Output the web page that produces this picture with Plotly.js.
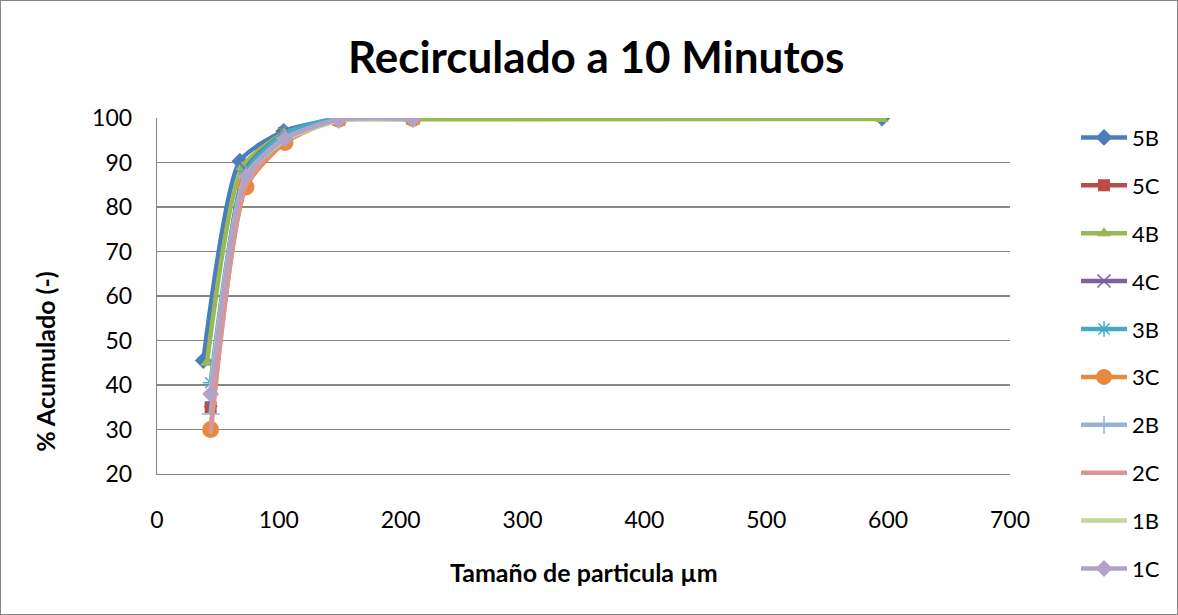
<!DOCTYPE html>
<html>
<head>
<meta charset="utf-8">
<script src="https://cdn.plot.ly/plotly-3.0.1.min.js"></script>
<style>
html,body{margin:0;padding:0;background:#fff;}
#chart{width:1176px;height:613px;border:1px solid #868686;}
</style>
</head>
<body>
<div id="chart"></div>
<script>
// Particle sizes (µm)
const sizesLong = [38, 68, 104, 149, 210, 595];
const sizes4B   = [41, 70, 104, 149, 210, 595];
const sizes     = [44, 73, 105, 149, 210];

// Cumulative % per sample
const names = ["5B","5C","4B","4C","3B","3C","2B","2C","1B","1C"];
const v5B = [45.5, 90.3, 97.0, 99.8, 99.9, 100.0];
const v5C = [35.0, 88.0, 96.3, 99.8, 99.9];
const v4B = [45.0, 89.0, 96.5, 99.6, 99.7, 99.8];
const v4C = [36.5, 88.5, 96.5, 99.8, 100.0];
const v3B = [40.5, 88.0, 96.5, 100.0, 100.0];
const v3C = [30.0, 84.5, 94.5, 99.7, 99.9];
const v2B = [33.5, 87.0, 95.5, 99.7, 99.8];
const v2C = [29.0, 85.0, 95.0, 99.6, 99.8];
const v1B = [39.0, 87.0, 95.0, 99.4, 99.7];
const v1C = [38.0, 86.8, 95.3, 99.6, 99.8];

const titleText = "Recirculado a 10 Minutos";
const xTitle = "Tamaño de particula µm";
const yTitle = "% Acumulado (-)";

const colors = ["#4A7EBB","#BE4B48","#98B954","#7D60A0","#46AAC5","#E8893F","#95B3D7","#D99694","#C3D69B","#B3A2C7"];
const symbols = ["diamond","square","triangle-up","x-thin-open","asterisk-open","circle","cross-thin-open","circle","circle","diamond"];
const msizes = [13, 12, 12, 13, 13, 17, 13, 0, 0, 13];
const xs = [sizesLong, sizes, sizes4B, sizes, sizes, sizes, sizes, sizes, sizes, sizes];
const ys = [v5B, v5C, v4B, v4C, v3B, v3C, v2B, v2C, v1B, v1C];

const traces = names.map((n, i) => ({
  type: "scatter",
  mode: msizes[i] > 0 ? "lines+markers" : "lines",
  name: n,
  legendgroup: n,
  x: xs[i], y: ys[i],
  line: {color: colors[i], width: 4.5, shape: "spline", smoothing: 0.6},
  marker: {symbol: symbols[i], size: msizes[i], color: colors[i],
           line: {color: colors[i], width: (symbols[i].indexOf("open") >= 0) ? 1.5 : 0}}
}));

const font = "Lato, 'Open Sans', sans-serif";
const layout = {
  width: 1176, height: 613,
  margin: {l: 156, r: 167, t: 117, b: 140},
  paper_bgcolor: "#fff", plot_bgcolor: "#fff",
  font: {family: font, size: 23, color: "#000"},
  title: {text: "<b>" + titleText + "</b>", font: {family: font, size: 44, color: "#000"},
          x: 0.506, xanchor: "center", y: 0.908, yanchor: "middle"},
  xaxis: {
    range: [0, 700], dtick: 100, tick0: 0,
    showgrid: false, zeroline: false,
    showline: true, linecolor: "#868686", linewidth: 1.3,
    ticks: "", ticklabelstandoff: 25,
    tickfont: {family: font, size: 23}
  },
  yaxis: {
    range: [20, 100], dtick: 10, tick0: 20,
    showgrid: true, gridcolor: "#868686", gridwidth: 1.3,
    zeroline: false, showline: true, linecolor: "#868686", linewidth: 1.3,
    ticks: "", ticklabelstandoff: 19,
    tickfont: {family: font, size: 23}
  },
  annotations: [
    {text: "<b>" + xTitle + "</b>", xref: "paper", yref: "paper", x: 0.5, y: -0.275,
     xanchor: "center", yanchor: "middle", showarrow: false, font: {family: font, size: 25}},
    {text: "<b>" + yTitle + "</b>", xref: "paper", yref: "paper", x: -0.1313, y: 0.315,
     xanchor: "center", yanchor: "middle", textangle: -90, showarrow: false, font: {family: font, size: 25}}
  ],
  legend: {
    x: 1.0774, xanchor: "left", y: 1.004, yanchor: "top",
    font: {family: font, size: 22}, tracegroupgap: 16.3, maxheight: 600,
    itemwidth: 46, bgcolor: "rgba(0,0,0,0)"
  },
  showlegend: true
};

Plotly.newPlot("chart", traces, layout, {displayModeBar: false, staticPlot: true});
</script>
</body>
</html>
